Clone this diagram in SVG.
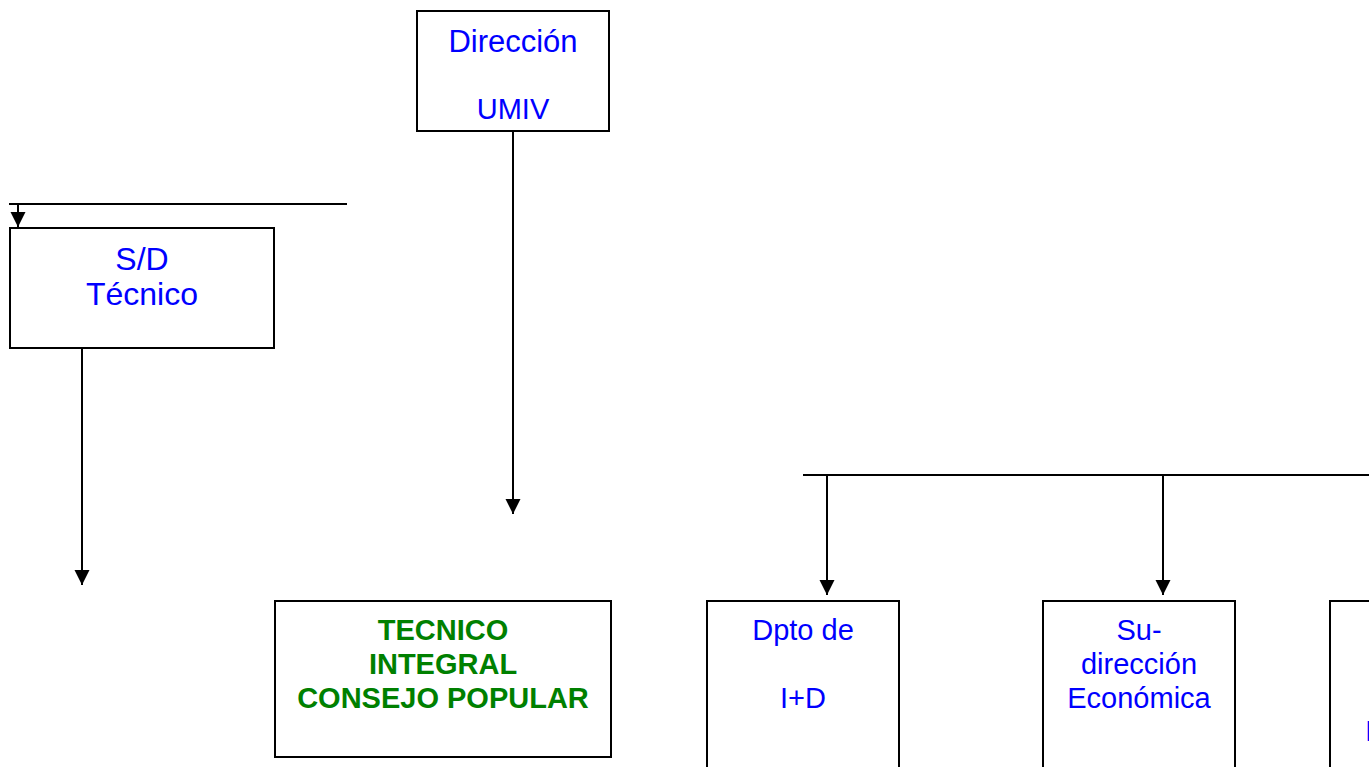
<svg xmlns="http://www.w3.org/2000/svg" width="1369" height="767" viewBox="0 0 1369 767">
<style>
.box{fill:#fff;stroke:#000;stroke-width:2}
.ln{fill:none;stroke:#000;stroke-width:2}
.bl{font-family:"Liberation Sans",Arial,sans-serif;font-size:29px;fill:#0000ff;text-anchor:middle}
.gr{font-family:"Liberation Sans",Arial,sans-serif;font-size:29px;font-weight:bold;fill:#008000;text-anchor:middle}
</style>
<defs>
<marker id="ah" markerUnits="userSpaceOnUse" markerWidth="16" markerHeight="16" viewBox="0 0 16 16" refX="15" refY="8" orient="auto">
<path d="M0,0.5 L15,8 L0,15.5 Z" fill="#000"/>
</marker>
</defs>
<rect width="1369" height="767" fill="#fff"/>
<g id="connectors">
<line class="ln" x1="513" y1="131" x2="513" y2="514" marker-end="url(#ah)"/>
<line class="ln" x1="9" y1="204" x2="347" y2="204"/>
<line class="ln" x1="18" y1="204" x2="18" y2="227" marker-end="url(#ah)"/>
<line class="ln" x1="82" y1="348" x2="82" y2="585" marker-end="url(#ah)"/>
<line class="ln" x1="803" y1="475" x2="1369" y2="475"/>
<line class="ln" x1="827" y1="475" x2="827" y2="595" marker-end="url(#ah)"/>
<line class="ln" x1="1163" y1="475" x2="1163" y2="595" marker-end="url(#ah)"/>
</g>
<g id="n-direccion">
<rect class="box" x="417" y="11" width="192" height="120"/>
<text class="bl" x="513" y="52" style="font-size:31px">Dirección</text>
<text class="bl" x="513" y="119">UMIV</text>
</g>
<g id="n-sdtecnico">
<rect class="box" x="10" y="228" width="264" height="120"/>
<text class="bl" x="142" y="270" style="font-size:32px">S/D</text>
<text class="bl" x="142" y="305" style="font-size:32px">Técnico</text>
</g>
<g id="n-tecnico-integral">
<rect class="box" x="275" y="601" width="336" height="156"/>
<text class="gr" x="443" y="640">TECNICO</text>
<text class="gr" x="443" y="674">INTEGRAL</text>
<text class="gr" x="443" y="708">CONSEJO POPULAR</text>
</g>
<g id="n-dpto-id">
<rect class="box" x="707" y="601" width="192" height="180"/>
<text class="bl" x="803" y="640">Dpto de</text>
<text class="bl" x="803" y="708">I+D</text>
</g>
<g id="n-subdir-economica">
<rect class="box" x="1043" y="601" width="192" height="180"/>
<text class="bl" x="1139" y="640">Su-</text>
<text class="bl" x="1139" y="674">dirección</text>
<text class="bl" x="1139" y="708">Económica</text>
</g>
<g id="n-right">
<rect class="box" x="1330" y="601" width="192" height="180"/>
<text class="bl" x="1365" y="741" style="text-anchor:start">I</text>
</g>
</svg>
